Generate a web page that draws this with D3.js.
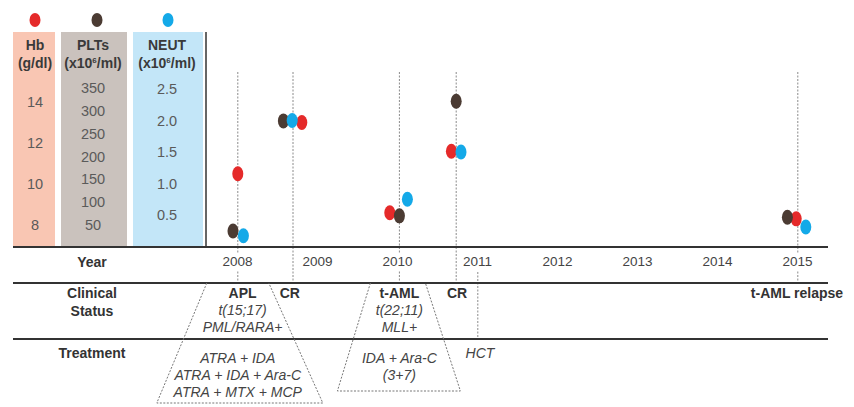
<!DOCTYPE html>
<html>
<head>
<meta charset="utf-8">
<script src="https://cdn.jsdelivr.net/npm/d3@7"></script>
<style>
  html, body { margin: 0; padding: 0; background: #fff; }
  svg { display: block; font-family: "Liberation Sans", Arial, sans-serif; }
</style>
</head>
<body>
<svg id="chart" width="854" height="407"></svg>
<script>
// ---------- data ----------
const years = [2008, 2009, 2010, 2011, 2012, 2013, 2014, 2015];
const hbTicks = [8, 10, 12, 14];
const pltTicks = [50, 100, 150, 200, 250, 300, 350];
const neutTicks = [0.5, 1.0, 1.5, 2.0, 2.5];

const hbDates   = [2008.01, 2008.81, 2009.91, 2010.68, 2014.99];
const hbValues  = [10.5, 13.0, 8.6, 11.6, 8.3];
const pltDates  = [2007.95, 2008.58, 2010.03, 2010.74, 2014.88];
const pltValues = [37, 278, 70, 321, 67];
const neutDates = [2008.08, 2008.69, 2010.13, 2010.80, 2015.11];
const neutValues = [0.17, 2.0, 0.75, 1.5, 0.31];

const eventDates = [2008.01, 2008.70, 2010.03, 2010.74, 2015.01];
const hctDate = 2011.01;

const statusDates = [2008.07, 2008.66, 2010.03, 2010.75, 2015.0];
const statusLines = [
  [["APL", "b"], ["t(15;17)", "i"], ["PML/RARA+", "i"]],
  [["CR", "b"]],
  [["t-AML", "b"], ["t(22;11)", "i"], ["MLL+", "i"]],
  [["CR", "b"]],
  [["t-AML relapse", "b"]]
];
const treatmentDates = [2008.01, 2010.03, 2011.0];
const treatmentLines = [
  ["ATRA + IDA", "ATRA + IDA + Ara-C", "ATRA + MTX + MCP"],
  ["IDA + Ara-C", "(3+7)"],
  ["HCT"]
];

// ---------- setup ----------
const svg = d3.select("#chart");
const RED = "#e52a2a", BROWN = "#4b3b33", BLUE = "#14a9e8";
const FS = 14;
const x = d3.scaleLinear().domain([2008, 2015]).range([237, 797]);
const yHb = d3.scaleLinear().domain([8, 14]).range([225, 102]);
const yPlt = d3.scaleLinear().domain([50, 350]).range([225, 88]);
const yNeut = d3.scaleLinear().domain([0.5, 2.5]).range([215, 89]);

// column backgrounds
const cols = [
  {x0: 13, x1: 55, fill: "#f9c6b3", cx: 35, head: ["Hb", "(g/dl)"], dot: RED, dotx: 35, scale: yHb, ticks: hbTicks, fmt: d3.format("d")},
  {x0: 61, x1: 127, fill: "#cac2bd", cx: 93, head: ["PLTs", "(x10|6|/ml)"], dot: BROWN, dotx: 97, scale: yPlt, ticks: pltTicks, fmt: d3.format("d")},
  {x0: 133, x1: 203, fill: "#c3e6f8", cx: 167, head: ["NEUT", "(x10|6|/ml)"], dot: BLUE, dotx: 168, scale: yNeut, ticks: neutTicks, fmt: d3.format(".1f")}
];
cols.forEach(c => {
  svg.append("rect").attr("x", c.x0).attr("y", 32).attr("width", c.x1 - c.x0).attr("height", 214).attr("fill", c.fill);
  svg.append("ellipse").attr("cx", c.dotx).attr("cy", 20).attr("rx", 5.5).attr("ry", 7).attr("fill", c.dot);
  svg.append("text").attr("x", c.cx).attr("y", 50).attr("text-anchor", "middle")
    .attr("font-size", FS).attr("font-weight", "bold").attr("fill", "#3a3a3a").text(c.head[0]);
  const t2 = svg.append("text").attr("x", c.cx).attr("y", 68).attr("text-anchor", "middle")
    .attr("font-size", FS).attr("font-weight", "bold").attr("fill", "#3a3a3a");
  const parts = c.head[1].split("|");
  if (parts.length === 1) t2.text(parts[0]);
  else {
    t2.append("tspan").text(parts[0]);
    t2.append("tspan").attr("dy", -5).attr("font-size", 8).text(parts[1]);
    t2.append("tspan").attr("dy", 5).text(parts[2]);
  }
  const ax = svg.append("g").attr("transform", `translate(${c.cx},0)`)
    .call(d3.axisLeft(c.scale).tickValues(c.ticks).tickFormat(c.fmt).tickSize(0).tickPadding(0));
  ax.select(".domain").remove();
  ax.selectAll("text").attr("text-anchor", "middle").attr("x", 0)
    .attr("font-size", 14.5).attr("font-family", "Liberation Sans, Arial, sans-serif").attr("fill", "#5a5a5a");
});

// vertical separator
svg.append("line").attr("x1", 206).attr("x2", 206).attr("y1", 32).attr("y2", 247)
  .attr("stroke", "#333").attr("stroke-width", 1.5);

// event dashed lines
svg.append("g").selectAll("line").data(eventDates).join("line")
  .attr("x1", d => x(d)).attr("x2", d => x(d)).attr("y1", 72).attr("y2", 283)
  .attr("stroke", "#8a8a8a").attr("stroke-width", 1).attr("stroke-dasharray", "2,1.5");
svg.append("line").attr("x1", x(hctDate)).attr("x2", x(hctDate)).attr("y1", 272).attr("y2", 339)
  .attr("stroke", "#8a8a8a").attr("stroke-width", 1).attr("stroke-dasharray", "2,1.5");

// horizontal rules
[247, 283, 339].forEach(yy => {
  svg.append("line").attr("x1", 13).attr("x2", 828).attr("y1", yy).attr("y2", yy)
    .attr("stroke", "#333").attr("stroke-width", 2);
});

// year axis
const yearAx = svg.append("g").attr("transform", "translate(0,255)")
  .call(d3.axisBottom(x).tickValues(years).tickFormat(d3.format("d")).tickSize(0).tickPadding(0));
yearAx.select(".domain").remove();
yearAx.selectAll(".tick").insert("rect", "text").attr("x", -20).attr("y", -1).attr("width", 40).attr("height", 16).attr("fill", "#fff");
yearAx.selectAll("text").attr("font-size", 13.5).attr("font-family", "Liberation Sans, Arial, sans-serif")
  .attr("fill", "#444").attr("dy", "0.85em");

// row labels
function rowLabel(lines, yy) {
  lines.forEach((t, i) => svg.append("text").attr("x", 92).attr("y", yy + i * 18).attr("text-anchor", "middle")
    .attr("font-size", FS).attr("font-weight", "bold").attr("fill", "#333").text(t));
}
rowLabel(["Year"], 267);
rowLabel(["Clinical", "Status"], 298);
rowLabel(["Treatment"], 358);

// trapezoids (dashed)
const trap = (d, tl, tr, bl, br, yb) => {
  const cx = x(d);
  const pts = [[cx + tl, 283], [cx + bl, yb], [cx + br, yb], [cx + tr, 283]];
  svg.append("path").attr("d", d3.line()(pts)).attr("fill", "none")
    .attr("stroke", "#777").attr("stroke-width", 1).attr("stroke-dasharray", "2,1.5");
};
trap(treatmentDates[0], -31, 31, -81, 85, 403);
trap(treatmentDates[1], -29, 26, -62, 61, 391);

// status texts
statusDates.forEach((d, i) => {
  statusLines[i].forEach((ln, j) => {
    svg.append("text").attr("x", x(d)).attr("y", 298 + j * 17).attr("text-anchor", "middle")
      .attr("font-size", FS).attr("font-weight", ln[1] === "b" ? "bold" : "normal")
      .attr("font-style", ln[1] === "i" ? "italic" : "normal")
      .attr("fill", ln[1] === "b" ? "#333" : "#444").text(ln[0]);
  });
});
// treatment texts
treatmentDates.forEach((d, i) => {
  treatmentLines[i].forEach((t, j) => {
    svg.append("text").attr("x", x(d) + (i === 2 ? 3 : 0)).attr("y", (i === 2 ? 358 : 363) + j * 17).attr("text-anchor", "middle")
      .attr("font-size", FS).attr("font-style", "italic").attr("fill", "#444").text(t);
  });
});

// data points
const series = [
  {dates: hbDates, values: hbValues, scale: yHb, color: RED},
  {dates: pltDates, values: pltValues, scale: yPlt, color: BROWN},
  {dates: neutDates, values: neutValues, scale: yNeut, color: BLUE}
];
series.forEach(s => {
  svg.append("g").selectAll("ellipse").data(s.values).join("ellipse")
    .attr("cx", (v, i) => x(s.dates[i])).attr("cy", v => s.scale(v))
    .attr("rx", 5.5).attr("ry", 7.5).attr("fill", s.color);
});
</script>
</body>
</html>
